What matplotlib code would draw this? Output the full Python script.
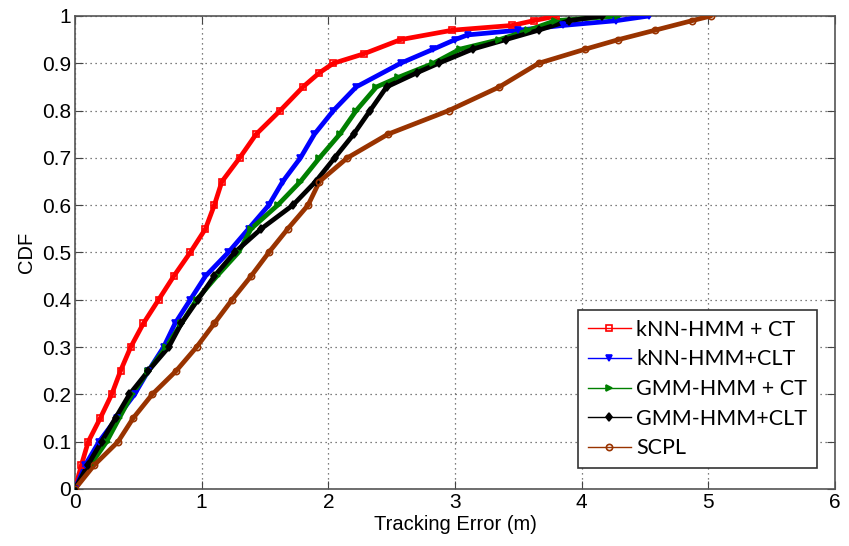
import matplotlib
matplotlib.use("Agg")
import matplotlib.pyplot as plt
from matplotlib.lines import Line2D

# CDF levels and tracking errors (m)
knn_ct_cdf = [0, 0.05, 0.1, 0.15, 0.2, 0.25, 0.3, 0.35, 0.4, 0.45, 0.5, 0.55, 0.6,
              0.65, 0.7, 0.75, 0.8, 0.85, 0.88, 0.9, 0.92, 0.95, 0.97, 0.98, 0.99, 1.0]
knn_ct_err = [0, 0.05, 0.105, 0.2, 0.29, 0.36, 0.44, 0.54, 0.66, 0.78, 0.91, 1.03, 1.10,
              1.16, 1.30, 1.43, 1.62, 1.80, 1.93, 2.04, 2.28, 2.57, 2.98, 3.45, 3.62, 3.80]

knn_clt_cdf = [0, 0.05, 0.1, 0.15, 0.2, 0.25, 0.3, 0.35, 0.4, 0.45, 0.5, 0.55, 0.6,
               0.65, 0.7, 0.75, 0.8, 0.85, 0.9, 0.93, 0.95, 0.96, 0.97, 0.98, 0.99, 1.0]
knn_clt_err = [0, 0.08, 0.19, 0.33, 0.47, 0.58, 0.70, 0.79, 0.91, 1.03, 1.21, 1.37, 1.53,
               1.64, 1.78, 1.89, 2.04, 2.22, 2.57, 2.83, 3.00, 3.10, 3.50, 3.85, 4.27, 4.53]

gmm_ct_cdf = [0, 0.05, 0.1, 0.15, 0.2, 0.25, 0.3, 0.35, 0.4, 0.45, 0.5, 0.55, 0.6,
              0.65, 0.7, 0.75, 0.8, 0.85, 0.87, 0.9, 0.93, 0.95, 0.97, 0.99, 1.0]
gmm_ct_err = [0, 0.12, 0.25, 0.35, 0.45, 0.58, 0.72, 0.84, 0.96, 1.12, 1.29, 1.39, 1.60,
              1.78, 1.93, 2.09, 2.22, 2.38, 2.55, 2.83, 3.04, 3.35, 3.58, 3.79, 4.29]

gmm_clt_cdf = [0, 0.05, 0.1, 0.15, 0.2, 0.25, 0.3, 0.35, 0.4, 0.45, 0.5, 0.55, 0.6,
               0.65, 0.7, 0.75, 0.8, 0.85, 0.88, 0.9, 0.93, 0.95, 0.97, 0.99, 1.0]
gmm_clt_err = [0, 0.10, 0.21, 0.32, 0.43, 0.58, 0.74, 0.84, 0.97, 1.10, 1.26, 1.47, 1.72,
               1.90, 2.05, 2.20, 2.33, 2.46, 2.70, 2.87, 3.14, 3.40, 3.66, 3.90, 4.16]

scpl_cdf = [0, 0.05, 0.1, 0.15, 0.2, 0.25, 0.3, 0.35, 0.4, 0.45, 0.5, 0.55, 0.6,
            0.65, 0.7, 0.75, 0.8, 0.85, 0.9, 0.93, 0.95, 0.97, 0.99, 1.0]
scpl_err = [0, 0.15, 0.34, 0.46, 0.61, 0.80, 0.96, 1.10, 1.24, 1.39, 1.53, 1.68, 1.84,
            1.93, 2.15, 2.47, 2.95, 3.35, 3.66, 4.03, 4.29, 4.58, 4.87, 5.02]

labels = ["kNN-HMM + CT", "kNN-HMM+CLT", "GMM-HMM + CT", "GMM-HMM+CLT", "SCPL"]
colors = ["#ff0000", "#0000ff", "#008000", "#000000", "#993300"]
markers = ["s", "v", ">", "d", "o"]
hollow = [True, False, False, False, True]

series = [(knn_ct_err, knn_ct_cdf), (knn_clt_err, knn_clt_cdf), (gmm_ct_err, gmm_ct_cdf),
          (gmm_clt_err, gmm_clt_cdf), (scpl_err, scpl_cdf)]

plt.rcParams["font.family"] = ["Liberation Sans", "DejaVu Sans"]

fig = plt.figure(figsize=(8.49, 5.46), dpi=100)
ax = fig.add_axes([0.0883, 0.1044, 0.8952, 0.8663])

handles = []
for (x, y), lab, c, m, h in zip(series, labels, colors, markers, hollow):
    ax.plot(x, y, color=c, lw=3.4, solid_capstyle="round", solid_joinstyle="round", zorder=3)
    ax.plot(x, y, color=c, lw=0, marker=m, ms=4.5,
            mfc="none" if h else c, mec=c, mew=1.2, zorder=4)
    handles.append(Line2D([], [], color=c, lw=1, marker=m, ms=4.5,
                          mfc="none" if h else c, mec=c, mew=1.2))

ax.set_xlim(0, 6)
ax.set_ylim(0, 1)
ax.set_xticks(range(0, 7))
ax.set_yticks([i / 10 for i in range(11)])
ax.set_yticklabels(["0"] + ["0.%d" % i for i in range(1, 10)] + ["1"])
ax.grid(True, linestyle=(0, (1, 3)), color="#555555", lw=0.9)
ax.tick_params(direction="in", top=True, right=True, labelsize=15, length=6,
               color="#444444", pad=3)
for s in ax.spines.values():
    s.set_color("#555555")
    s.set_linewidth(1.2)

ax.set_xlabel("Tracking Error (m)", fontsize=14.5, labelpad=2)
ax.set_ylabel("CDF", fontsize=14.5, labelpad=4)

leg = ax.legend(handles, labels, loc="upper right", bbox_to_anchor=(0.9623, 0.4322),
                bbox_transform=fig.transFigure, borderaxespad=0, fancybox=False,
                framealpha=1, edgecolor="#333333", handlelength=2.0,
                prop={"family": ["Lato", "DejaVu Sans"], "size": 15.5},
                labelspacing=0.45, borderpad=0.45, handletextpad=0.25)
leg.get_frame().set_linewidth(1.2)

fig.savefig("out.png", dpi=100)
